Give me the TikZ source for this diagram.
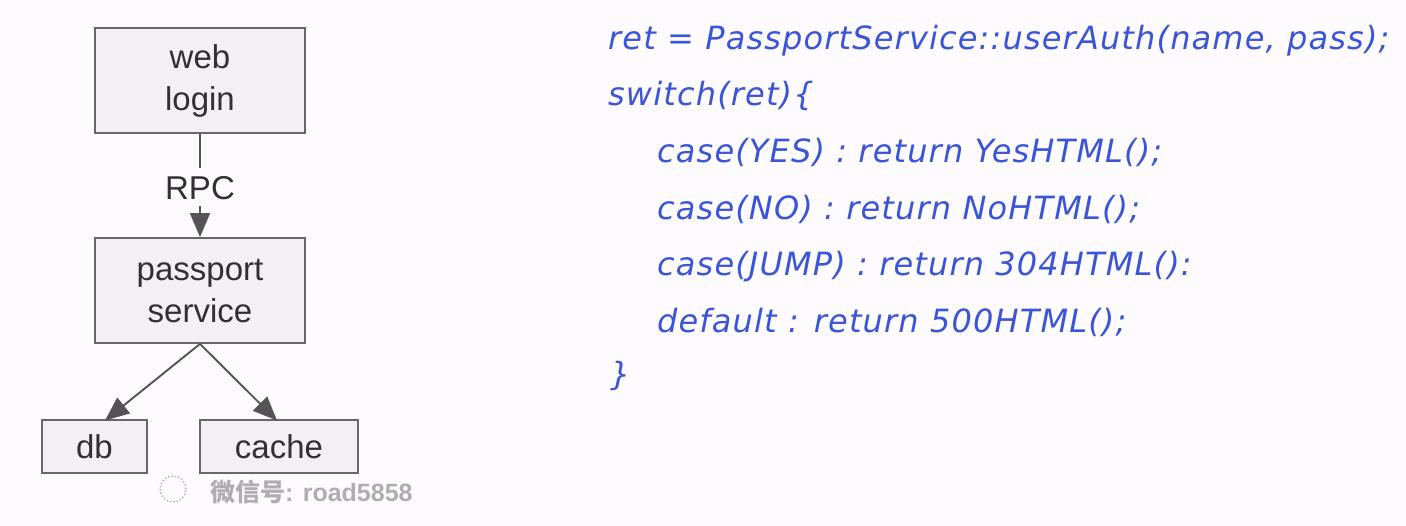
\documentclass[tikz,border=0pt]{standalone}
\usepackage{fontspec}
\setmainfont{Liberation Sans}
\newfontfamily\codefont[LetterSpace=3.6]{DejaVu Sans}
\newfontfamily\cjkfont{Noto Sans CJK SC}
\usetikzlibrary{arrows.meta}
\definecolor{bg}{RGB}{253,251,254}
\definecolor{boxfill}{RGB}{242,240,243}
\definecolor{boxdraw}{RGB}{105,103,106}
\definecolor{txt}{RGB}{50,48,50}
\definecolor{arrowc}{RGB}{85,83,86}
\definecolor{codeblue}{RGB}{58,84,218}
\definecolor{wm}{RGB}{175,173,176}
\tikzset{
  box/.style={draw=boxdraw, fill=boxfill, line width=1.8pt, inner sep=0pt, align=center,
    text=txt, font=\fontsize{33}{42}\selectfont},
  conn/.style={draw=arrowc, line width=1.9pt, -{Triangle[length=24pt,width=20pt]}},
  codeline/.style={anchor=base west, inner sep=0pt, text=codeblue,
    font=\codefont\itshape\fontsize{32}{38}\selectfont},
}
\begin{document}
\begin{tikzpicture}[x=1pt,y=-1pt]
\fill[bg] (0,0) rectangle (1406,526);
\useasboundingbox (0,0) rectangle (1406,526);
% boxes
\node[box, minimum width=210pt, minimum height=105pt] (web) at (200,80.5) {web\\login};
\node[box, minimum width=210pt, minimum height=105pt] (pass) at (200,290.5) {passport\\service};
\node[box, minimum width=105pt, minimum height=53pt] (db) at (94.5,446.5) {db};
\node[box, minimum width=158pt, minimum height=53pt] (cache) at (279,446.5) {cache};
% connectors
\draw[conn] (web.south) -- (pass.north)
  node[midway, fill=bg, inner sep=0pt, minimum height=38pt, text height=24pt, text depth=0pt,
       text=txt, font=\fontsize{33}{41}\selectfont, yshift=-2pt] (rpc) {RPC};
\coordinate (dbtop) at (105,420.5);
\coordinate (cachetop) at (277,420.5);
\draw[conn] (pass.south) -- (dbtop);
\draw[conn] (pass.south) -- (cachetop);
% watermark
\node[anchor=base west, inner sep=0pt, text=wm, font=\fontsize{25}{25}\selectfont\bfseries] (wmk) at (210,501)
  {{\cjkfont 微信号}: road5858};
\draw[wm, line width=1.4pt, dotted] (173,489) circle (13pt);
% code
\node[codeline] (l1) at (608,50) {ret = PassportService::userAuth(name, pass);};
\node[codeline] (l2) at (608,106) {switch(ret)\{};
\node[codeline] (l3) at (657,163) {case(YES) : return YesHTML();};
\node[codeline] (l4) at (657,220) {case(NO) : return NoHTML();};
\node[codeline] (l5) at (657,276) {case(JUMP) : return 304HTML():};
\node[codeline] (l6) at (657,333) {default : return 500HTML();};
\node[codeline] (l7) at (610,386) {\}};
\end{tikzpicture}
\end{document}
